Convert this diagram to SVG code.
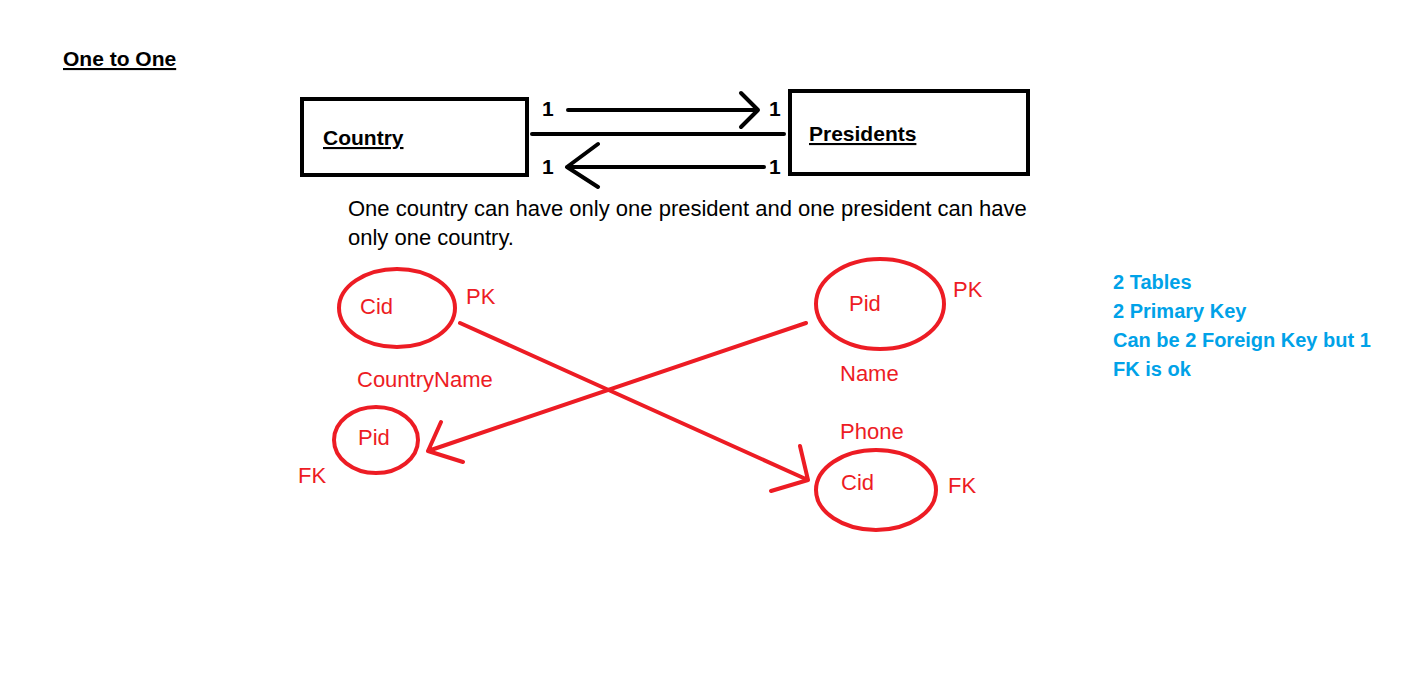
<svg xmlns="http://www.w3.org/2000/svg" width="1422" height="693" viewBox="0 0 1422 693">
<style>
text{font-family:"Liberation Sans",Arial,sans-serif}
.b{font-weight:bold;font-size:21px;fill:#000}
.u{text-decoration:underline}
.p{font-size:22px;fill:#000}
.r{font-size:22px;fill:#ED1C24}
.bl{font-weight:bold;font-size:20px;fill:#00A2E8}
.box{fill:none;stroke:#000;stroke-width:4}
.k{fill:none;stroke:#000;stroke-width:4;stroke-linecap:round;stroke-linejoin:round}
.ell{fill:none;stroke:#ED1C24;stroke-width:4}
.rl{fill:none;stroke:#ED1C24;stroke-width:4;stroke-linecap:round;stroke-linejoin:round}
</style>
<rect width="1422" height="693" fill="#fff"/>
<text class="b u" x="63" y="66">One to One</text>
<g id="country">
<rect class="box" x="302" y="99" width="225" height="76"/>
<text class="b u" x="323" y="145">Country</text>
</g>
<g id="presidents">
<rect class="box" x="790" y="91" width="238" height="83"/>
<text class="b u" x="809" y="141">Presidents</text>
</g>
<g id="connectors">
<path class="k" d="M568 110H758M741 93L758 110L741 127"/>
<path class="k" d="M532 134H784"/>
<path class="k" d="M764 167H567M598 144L567 167L598 187"/>
<path class="rl" d="M460 323L808 480M800 446L808 480L771 491"/>
<path class="rl" d="M806 323L428 451M441 422L428 451L463 462"/>
</g>
<g id="labels">
<text class="b" x="542" y="116">1</text>
<text class="b" x="769" y="116">1</text>
<text class="b" x="542" y="174">1</text>
<text class="b" x="769" y="174">1</text>
<text class="p" x="348" y="216">One country can have only one president and one president can have</text>
<text class="p" x="348" y="245">only one country.</text>
</g>
<g id="cid-pk">
<ellipse class="ell" cx="397" cy="308" rx="58" ry="39"/>
<text class="r" x="360" y="314">Cid</text>
<text class="r" x="466" y="304">PK</text>
</g>
<text class="r" x="357" y="387">CountryName</text>
<g id="pid-fk">
<ellipse class="ell" cx="376" cy="440" rx="42" ry="33"/>
<text class="r" x="358" y="445">Pid</text>
<text class="r" x="298" y="483">FK</text>
</g>
<g id="pid-pk">
<ellipse class="ell" cx="880" cy="304" rx="64" ry="45"/>
<text class="r" x="849" y="311">Pid</text>
<text class="r" x="953" y="297">PK</text>
</g>
<text class="r" x="840" y="381">Name</text>
<text class="r" x="840" y="439">Phone</text>
<g id="cid-fk">
<ellipse class="ell" cx="876" cy="490" rx="60" ry="40"/>
<text class="r" x="841" y="490">Cid</text>
<text class="r" x="948" y="493">FK</text>
</g>
<g id="notes">
<text class="bl" x="1113" y="289">2 Tables</text>
<text class="bl" x="1113" y="318">2 Primary Key</text>
<text class="bl" x="1113" y="347">Can be 2 Foreign Key but 1</text>
<text class="bl" x="1113" y="376">FK is ok</text>
</g>
</svg>
